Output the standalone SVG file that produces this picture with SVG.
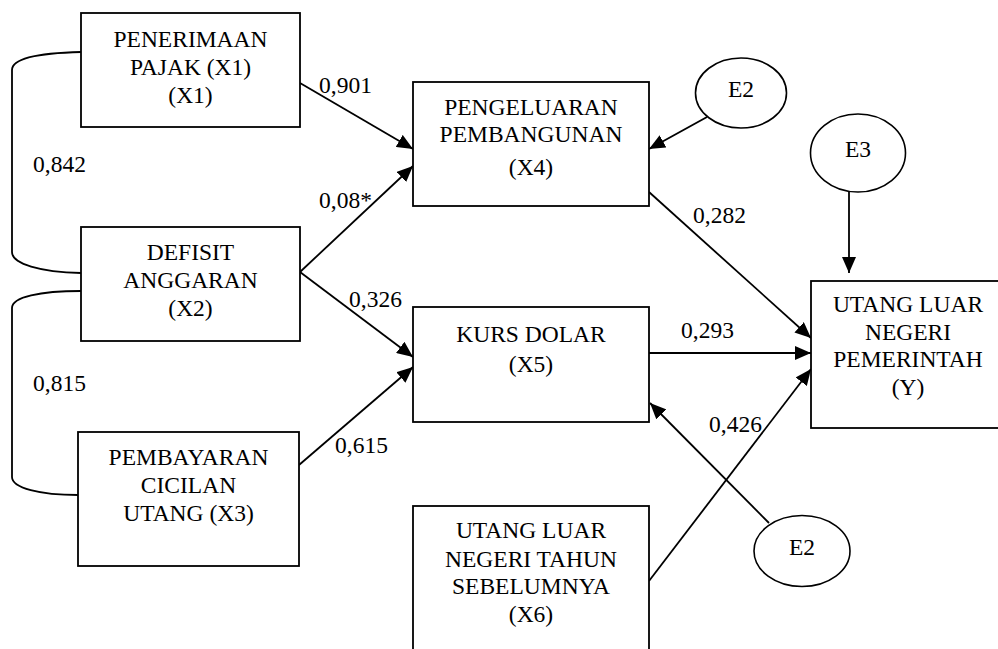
<svg xmlns="http://www.w3.org/2000/svg" width="998" height="649" viewBox="0 0 998 649">
<defs>
<style>
.c{text-anchor:middle}
.box{fill:#fff;stroke:#000;stroke-width:1.8}
.ell{fill:#fff;stroke:#000;stroke-width:1.6}
.ln{fill:none;stroke:#000;stroke-width:1.8}
.ar{fill:none;stroke:#000;stroke-width:1.8;marker-end:url(#ah)}
</style>
<marker id="ah" viewBox="0 0 16 14" refX="16" refY="7" markerWidth="16" markerHeight="14" markerUnits="userSpaceOnUse" orient="auto">
<path d="M0,0 L16,7 L0,14 Z" fill="#000"/>
</marker>
</defs>
<rect width="998" height="649" fill="#fff"/>
<g id="connectors">
<path class="ln" d="M81,52 C40,53 12,58 12,70 V252 C12,264 40,272 81,273"/>
<path class="ln" d="M81,291 C40,291 12,297 12,308 V477 C12,488 40,495 78,495"/>
<line class="ar" x1="300" y1="83" x2="413" y2="149"/>
<line class="ar" x1="300" y1="272" x2="413" y2="166"/>
<line class="ar" x1="300" y1="272" x2="413" y2="357"/>
<line class="ar" x1="299" y1="465" x2="413" y2="367"/>
<line class="ar" x1="707" y1="117" x2="649" y2="149"/>
<line class="ar" x1="849" y1="192" x2="849" y2="273"/>
<line class="ar" x1="649" y1="192" x2="811" y2="338"/>
<line class="ar" x1="649" y1="353" x2="811" y2="353"/>
<line class="ar" x1="649" y1="581" x2="811" y2="369"/>
<line class="ar" x1="769" y1="523" x2="650" y2="403"/>
<text font-family="Liberation Serif" font-size="23.5" x="33" y="172">0,842</text>
<text font-family="Liberation Serif" font-size="23.5" x="33" y="391">0,815</text>
<text font-family="Liberation Serif" font-size="23.5" x="319" y="93">0,901</text>
<text font-family="Liberation Serif" font-size="23.5" x="319" y="208">0,08*</text>
<text font-family="Liberation Serif" font-size="23.5" x="349" y="307">0,326</text>
<text font-family="Liberation Serif" font-size="23.5" x="335" y="453">0,615</text>
<text font-family="Liberation Serif" font-size="23.5" x="693" y="223">0,282</text>
<text font-family="Liberation Serif" font-size="23.5" x="681" y="338">0,293</text>
<text font-family="Liberation Serif" font-size="23.5" x="709" y="432">0,426</text>
</g>
<g id="x1">
<rect class="box" x="81" y="13" width="219" height="114"/>
<text font-family="Liberation Serif" font-size="23.5" class="c" x="190.5" y="47">PENERIMAAN</text>
<text font-family="Liberation Serif" font-size="23.5" class="c" x="190.5" y="75">PAJAK (X1)</text>
<text font-family="Liberation Serif" font-size="23.5" class="c" x="190.5" y="103">(X1)</text>
</g>
<g id="x2">
<rect class="box" x="81" y="227" width="219" height="114"/>
<text font-family="Liberation Serif" font-size="23.5" class="c" x="190.5" y="260">DEFISIT</text>
<text font-family="Liberation Serif" font-size="23.5" class="c" x="190.5" y="288">ANGGARAN</text>
<text font-family="Liberation Serif" font-size="23.5" class="c" x="190.5" y="316">(X2)</text>
</g>
<g id="x3">
<rect class="box" x="78" y="432" width="221" height="134"/>
<text font-family="Liberation Serif" font-size="23.5" class="c" x="188.5" y="465">PEMBAYARAN</text>
<text font-family="Liberation Serif" font-size="23.5" class="c" x="188.5" y="493">CICILAN</text>
<text font-family="Liberation Serif" font-size="23.5" class="c" x="188.5" y="521">UTANG (X3)</text>
</g>
<g id="x4">
<rect class="box" x="413" y="82" width="236" height="124"/>
<text font-family="Liberation Serif" font-size="23.5" class="c" x="531" y="115">PENGELUARAN</text>
<text font-family="Liberation Serif" font-size="23.5" class="c" x="531" y="142">PEMBANGUNAN</text>
<text font-family="Liberation Serif" font-size="23.5" class="c" x="531" y="175">(X4)</text>
</g>
<g id="x5">
<rect class="box" x="413" y="307" width="236" height="115"/>
<text font-family="Liberation Serif" font-size="23.5" class="c" x="531" y="342">KURS DOLAR</text>
<text font-family="Liberation Serif" font-size="23.5" class="c" x="531" y="372">(X5)</text>
</g>
<g id="x6">
<rect class="box" x="413" y="506" width="236" height="160"/>
<text font-family="Liberation Serif" font-size="23.5" class="c" x="531" y="538">UTANG LUAR</text>
<text font-family="Liberation Serif" font-size="23.5" class="c" x="531" y="567">NEGERI TAHUN</text>
<text font-family="Liberation Serif" font-size="23.5" class="c" x="531" y="594">SEBELUMNYA</text>
<text font-family="Liberation Serif" font-size="23.5" class="c" x="531" y="622">(X6)</text>
</g>
<g id="y">
<rect class="box" x="811" y="281" width="200" height="147"/>
<text font-family="Liberation Serif" font-size="23.5" class="c" x="908" y="312">UTANG LUAR</text>
<text font-family="Liberation Serif" font-size="23.5" class="c" x="908" y="340">NEGERI</text>
<text font-family="Liberation Serif" font-size="23.5" class="c" x="908" y="367">PEMERINTAH</text>
<text font-family="Liberation Serif" font-size="23.5" class="c" x="908" y="395">(Y)</text>
</g>
<g id="e2a">
<ellipse class="ell" cx="741" cy="93" rx="45.5" ry="35"/>
<text font-family="Liberation Serif" font-size="23.5" class="c" x="741" y="97">E2</text>
</g>
<g id="e3">
<ellipse class="ell" cx="858" cy="153" rx="47.5" ry="39"/>
<text font-family="Liberation Serif" font-size="23.5" class="c" x="858" y="157">E3</text>
</g>
<g id="e2b">
<ellipse class="ell" cx="802" cy="551" rx="48" ry="35.5"/>
<text font-family="Liberation Serif" font-size="23.5" class="c" x="802" y="555">E2</text>
</g>
</svg>
